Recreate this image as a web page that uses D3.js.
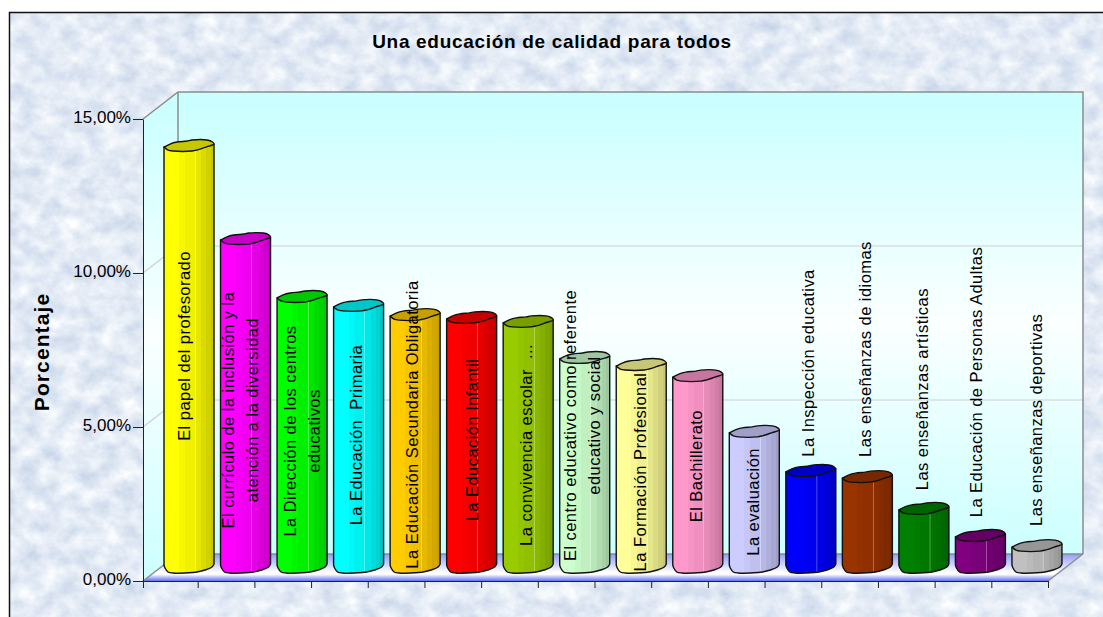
<!DOCTYPE html>
<html>
<head>
<meta charset="utf-8">
<script src="https://cdn.jsdelivr.net/npm/d3@7"></script>
<style>
  html, body { margin: 0; padding: 0; background: #fff; }
  svg { display: block; }
  text { font-family: "Liberation Sans", Arial, sans-serif; fill: #000; }
</style>
</head>
<body>
<svg id="chart" width="1103" height="617"></svg>
<script>
// data
const categories = [
  'El papel del profesorado',
  'El currículo de la inclusión y la|atención a la diversidad',
  'La Dirección de los centros|educativos',
  'La Educación  Primaria',
  'La Educación Secundaria Obligatoria',
  'La Educación Infantil',
  'La convivencia escolar  ...',
  'El centro educativo como referente|educativo y social',
  'La Formación Profesional',
  'El Bachillerato',
  'La evaluación',
  'La Inspección educativa',
  'Las enseñanzas de idiomas',
  'Las enseñanzas artísticas',
  'La Educación de Personas Adultas',
  'Las enseñanzas deportivas'
];
const values = [13.57, 10.55, 8.67, 8.38, 8.08, 7.99, 7.86, 6.69, 6.46, 6.10, 4.29, 3.02, 2.82, 1.79, 0.91, 0.58];
const barColors = ['#ffff00', '#ff00ff', '#00ff00', '#00ffff', '#ffcc00', '#ff0000', '#99cc00', '#ccffcc',
  '#ffff99', '#ff99cc', '#ccccff', '#0000ff', '#993300', '#008000', '#800080', '#c0c0c0'];
const yTicks = [0, 5, 10, 15];

// where each label sits along its bar (in axis units) and across it (px from bar centre)
const labelAt = [7.11, 5.03, 4.35, 4.22, 4.56, 4.06, 3.9, 4.53, 3.02, 3.21, 2.05, 6.56, 7.01, 5.71, 5.94, 4.71];
const labelShift = [1, -11.5, -6, 3.4, 3, 6.3, 3.5, -9, 4.8, 4.2, 4.7, 3.5, 3.6, 4.1, 1.6, 5];

const svg = d3.select('#chart');
const defs = svg.append('defs');

const depthX = 35, depthY = 27, barLift = 16, barW = 50, lineGap = 24;
const frontLeft = 143, frontRight = 1048;

const y = d3.scaleLinear().domain([0, 15]).range([581, 119]);
const xBar = d3.scaleBand().domain(d3.range(categories.length)).range([164, 164 + 56.53 * categories.length]);
const xTick = d3.scaleLinear().domain([0, 1, 16]).range([frontLeft, 197.7, frontRight]);

// marbled paper background
const marble = defs.append('filter').attr('id', 'marble')
  .attr('x', 0).attr('y', 0).attr('width', '100%').attr('height', '100%')
  .attr('color-interpolation-filters', 'sRGB');
marble.append('feTurbulence').attr('type', 'fractalNoise').attr('baseFrequency', '0.05 0.06')
  .attr('numOctaves', 5).attr('seed', 7);
marble.append('feColorMatrix').attr('type', 'matrix')
  .attr('values', '0.28 0 0 0 0.75  0.22 0 0 0 0.81  0.12 0 0 0 0.9  0 0 0 0 1');

svg.append('rect').attr('x', 10).attr('y', 13).attr('width', 1093).attr('height', 604)
  .attr('filter', 'url(#marble)');
svg.append('path').attr('d', 'M9.5 617V12.5H1103').attr('fill', 'none').attr('stroke', '#111').attr('stroke-width', 1.5);

// title and axis title
svg.append('text').attr('x', 552).attr('y', 48).attr('text-anchor', 'middle')
  .attr('font-size', 19).attr('letter-spacing', 0.68).attr('font-weight', 'bold')
  .text('Una educación de calidad para todos');
svg.append('text').attr('transform', 'translate(49,352) rotate(-90)').attr('text-anchor', 'middle')
  .attr('font-size', 21).attr('letter-spacing', 1.1).attr('font-weight', 'bold').text('Porcentaje');

// walls
const wallGrad = defs.append('linearGradient').attr('id', 'wall').attr('x1', 0).attr('y1', 0).attr('x2', 0).attr('y2', 1);
[[0, '#c8ffff'], [0.5, '#fbffff'], [1, '#ccffff']].forEach(([o, c]) =>
  wallGrad.append('stop').attr('offset', o).attr('stop-color', c));
const floorGrad = defs.append('linearGradient').attr('id', 'floor').attr('x1', 0).attr('y1', 0).attr('x2', 0).attr('y2', 1);
[[0, '#8f9cff'], [0.68, '#ffffff'], [0.75, '#ffffff'], [1, '#5f70f5']].forEach(([o, c]) =>
  floorGrad.append('stop').attr('offset', o).attr('stop-color', c));

const line = d3.line();
const soft = d3.line().curve(d3.curveCatmullRom.alpha(0.5));
const top15 = y(15), base = y(0);
svg.append('path')
  .attr('d', line([[frontLeft, top15], [frontLeft + depthX, top15 - depthY], [frontLeft + depthX, base - depthY], [frontLeft, base]]) + 'Z')
  .attr('fill', 'url(#wall)');
svg.append('rect').attr('x', frontLeft + depthX).attr('y', top15 - depthY)
  .attr('width', frontRight - frontLeft).attr('height', base - top15)
  .attr('fill', 'url(#wall)');

// gridlines
[5, 10].forEach(v => {
  svg.append('path')
    .attr('d', line([[frontLeft, y(v)], [frontLeft + depthX, y(v) - depthY], [frontRight + depthX, y(v) - depthY]]))
    .attr('fill', 'none').attr('stroke', '#cfcfcf').attr('stroke-width', 1.2);
});

// floor
svg.append('path')
  .attr('d', line([[frontLeft, base], [frontLeft + depthX, base - depthY], [frontRight + depthX, base - depthY], [frontRight, base]]) + 'Z')
  .attr('fill', 'url(#floor)');

// wall edges
svg.append('path')
  .attr('d', line([[frontLeft, top15], [frontLeft + depthX, top15 - depthY], [frontRight + depthX, top15 - depthY], [frontRight + depthX, base - depthY], [frontRight, base]]))
  .attr('fill', 'none').attr('stroke', '#8c8c8c').attr('stroke-width', 1.5);
svg.append('path')
  .attr('d', line([[frontLeft, base], [frontLeft + depthX, base - depthY], [frontRight + depthX, base - depthY]]))
  .attr('fill', 'none').attr('stroke', '#8c8c8c').attr('stroke-width', 1.5);
svg.append('path')
  .attr('d', line([[frontLeft + depthX, top15 - depthY], [frontLeft + depthX, base - depthY]]))
  .attr('fill', 'none').attr('stroke', '#8c8c8c').attr('stroke-width', 1.5);

// axes
const yAxis = d3.axisLeft(y).tickValues(yTicks).tickSize(10).tickSizeOuter(0).tickPadding(2)
  .tickFormat(d => d3.format('.2f')(d).replace('.', ',') + '%');
const gy = svg.append('g').attr('transform', `translate(${frontLeft},0)`).call(yAxis);
gy.selectAll('text').attr('font-size', 17).attr('fill', '#222').attr('dy', '0.22em');
gy.selectAll('line,path').attr('stroke', '#222').attr('stroke-width', 1);

const xAxis = d3.axisBottom(xTick).tickValues(d3.range(0, 17)).tickSize(7).tickSizeOuter(0).tickFormat('');
const gx = svg.append('g').attr('transform', `translate(0,${base})`).call(xAxis);
gx.selectAll('line,path').attr('stroke', '#222').attr('stroke-width', 1);

// bar shading: vertical strips from light to dark, one thin highlight
const strips = [[0, 1], [0.3, 1], [0.3, 0.97], [0.42, 0.97], [0.42, 0.94], [0.61, 0.94],
  [0.615, 1.12], [0.63, 1.12], [0.635, 0.9], [0.74, 0.9], [0.74, 0.86], [0.84, 0.86], [0.84, 0.82], [0.93, 0.82], [0.93, 0.78], [1, 0.78]];

function shade(color, k) {
  const c = d3.rgb(color);
  if (k > 1) return d3.interpolateRgb(shade(color, 0.94), '#ffffff')(0.3);
  return d3.rgb(c.r * k, c.g * k, c.b * k).formatHex();
}

barColors.forEach((color, i) => {
  const g = defs.append('linearGradient').attr('id', `bar${i}`);
  strips.forEach(([o, k]) => g.append('stop').attr('offset', o).attr('stop-color', shade(color, k)));
});

// cap outline, in bar widths from the left edge; the wobble gives the rough low-poly cylinder
const capTop = [[0, 0], [0.12, -3], [0.26, -5], [0.46, -6], [0.56, -7], [0.86, -7], [0.97, -5], [1, -3]];
const capFront = [[1, -3], [0.84, 0], [0.66, 3], [0.56, 4], [0.18, 4], [0.08, 3], [0, 0]];
const baseFront = [[1, -1], [0.96, 2], [0.82, 5], [0.66, 7], [0.58, 7.5], [0.18, 8], [0.08, 7], [0.02, 3], [0, 0]];

const bars = svg.append('g').selectAll('g').data(values).join('g')
  .attr('transform', (d, i) => `translate(${xBar(i)},0)`);

bars.append('path')
  .attr('d', d => {
    const t = y(d) - barLift, b = base - barLift;
    const edge = soft(baseFront.map(([u, v]) => [u * barW, b + v]));
    return `M0,${t}L${barW},${t - 3}L` + edge.slice(1) + 'Z';
  })
  .attr('fill', (d, i) => `url(#bar${i})`)
  .attr('stroke', '#111').attr('stroke-width', 1.4).attr('stroke-linejoin', 'round');

bars.append('path')
  .attr('d', d => {
    const t = y(d) - barLift;
    return soft(capTop.concat(capFront.slice(1)).map(([u, v]) => [u * barW, t + v])) + 'Z';
  })
  .attr('fill', (d, i) => shade(barColors[i], 0.78))
  .attr('stroke', '#111').attr('stroke-width', 1.4).attr('stroke-linejoin', 'round');

// labels run up the bars, on top of everything
categories.forEach((cat, i) => {
  const cx = xBar(i) + barW / 2 + labelShift[i];
  const cy = y(labelAt[i]) - barLift;
  cat.split('|').forEach((ln, j) => {
    svg.append('text')
      .attr('transform', `translate(${cx + j * lineGap},${cy}) rotate(-90)`)
      .attr('text-anchor', 'middle')
      .attr('font-size', 16.5)
      .attr('letter-spacing', 0.45)
      .style('white-space', 'pre')
      .text(ln);
  });
});
</script>
</body>
</html>
